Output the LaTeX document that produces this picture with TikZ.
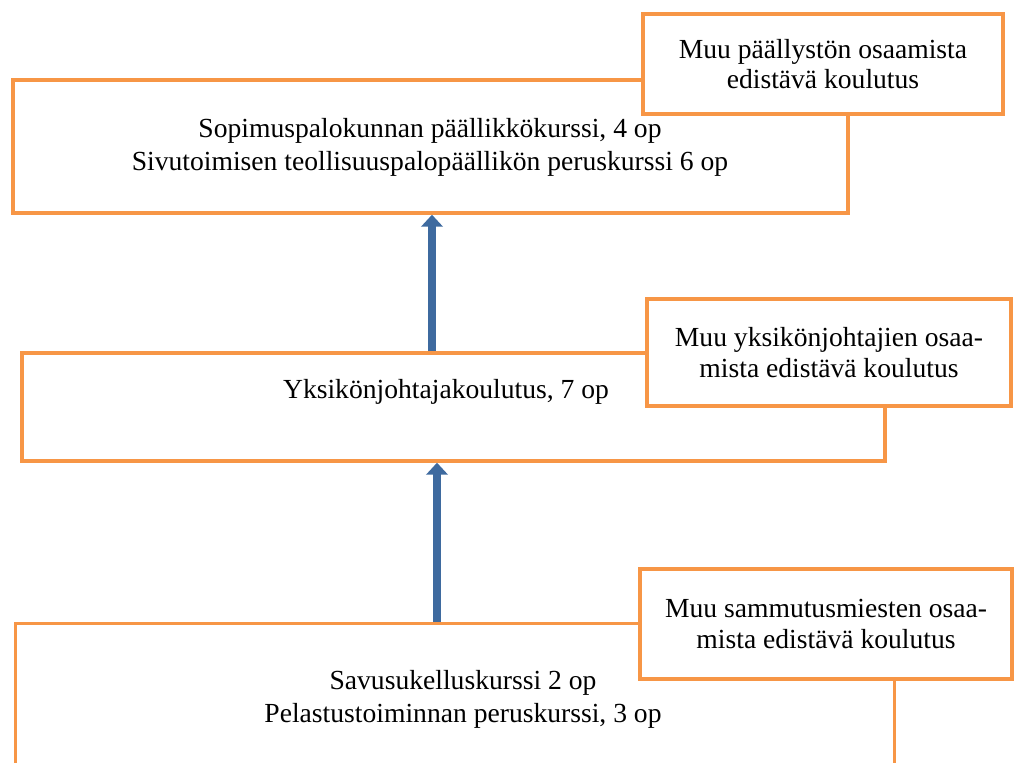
\documentclass[tikz,border=0pt]{standalone}
\usepackage{fontspec}
\setmainfont{Liberation Serif}
\usetikzlibrary{arrows.meta,positioning}
\definecolor{boxorange}{HTML}{F79646}
\definecolor{arrowblue}{HTML}{3E6A9F}
\tikzset{
	block/.style = {draw=boxorange, line width=2.6pt, fill=white, rectangle, inner sep=0pt},
	note/.style = {block, align=center, font=\fontsize{20.7}{22.8}\selectfont},
	txt/.style = {align=center, font=\fontsize{20.7}{24.7}\selectfont},
	up/.style = {draw=arrowblue, line width=6.4pt, -{Triangle[width=16pt,length=9pt]}}
}

\begin{document}
\begin{tikzpicture}[x=0.75pt,y=-0.75pt]
	\path[use as bounding box, clip] (0,0) rectangle (1014,763);
	\fill[white] (0,0) rectangle (1014,763);

	% levels
	\node [block, minimum width=835*0.75pt, minimum height=133*0.75pt] (B1) at (430.5,146.5) {};
	\node [block, minimum width=863*0.75pt, minimum height=108*0.75pt] (B2) at (453.5,407) {};
	\node [block, anchor=north west, minimum width=879*0.75pt, minimum height=300*0.75pt] (B3) at (14,622) {};

	\node [txt] (T1) at (430,147) {Sopimuspalokunnan päällikkökurssi, 4 op\\Sivutoimisen teollisuuspalopäällikön peruskurssi 6 op};
	\node [txt] (T2) at (446,392) {Yksikönjohtajakoulutus, 7 op};
	\node [txt] (T3) at (463,699) {Savusukelluskurssi 2 op\\Pelastustoiminnan peruskurssi, 3 op};

	% arrows
	\coordinate (a1) at (432,0);
	\coordinate (a2) at (437,0);
	\draw [up] (B2.north -| a1) -- (B1.south -| a1);
	\draw [up] (B3.north -| a2) -- (B2.south -| a2);

	% side notes
	\node [note, minimum width=360*0.75pt, minimum height=100*0.75pt] (N1) at (823,64) {Muu päällystön osaamista\\edistävä koulutus};
	\node [note, minimum width=364*0.75pt, minimum height=107*0.75pt] (N2) at (829,352.5) {Muu yksikönjohtajien osaa-\\mista edistävä koulutus};
	\node [note, minimum width=372*0.75pt, minimum height=110*0.75pt] (N3) at (826,624) {Muu sammutusmiesten osaa-\\mista edistävä koulutus};
\end{tikzpicture}
\end{document}
